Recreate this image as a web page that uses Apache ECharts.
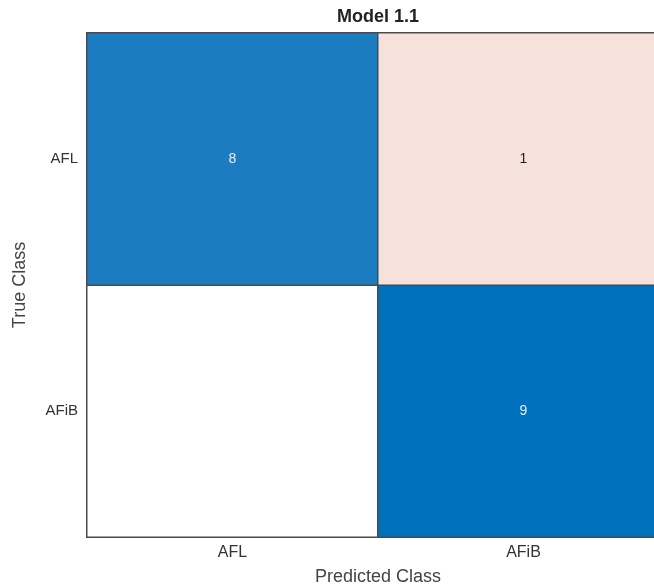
<!DOCTYPE html>
<html>
<head>
<meta charset="utf-8">
<script src="https://cdn.jsdelivr.net/npm/echarts@6/dist/echarts.min.js"></script>
<style>html,body{margin:0;padding:0;background:#fff}#c{width:654px;height:585px}</style>
</head>
<body>
<div id="c"></div>
<script>
var predictedClasses = ['AFL', 'AFiB'];
var trueClasses = ['AFiB', 'AFL']; // bottom to top
// counts[trueIndex][predIndex], trueIndex follows trueClasses order
var countsAFiB = [0, 9];
var countsAFL = [8, 1];
var counts = [countsAFiB, countsAFL];

var data = [];
for (var t = 0; t < trueClasses.length; t++) {
  for (var p = 0; p < predictedClasses.length; p++) {
    var v = counts[t][p];
    data.push({
      value: [p, t, v],
      label: { color: v >= 5 ? '#e8f0f8' : '#222' }
    });
  }
}

var FONT = 'Liberation Sans, Arial, sans-serif';
var chart = echarts.init(document.getElementById('c'), null, { renderer: 'canvas' });
chart.setOption({
  animation: false,
  title: {
    text: 'Model 1.1',
    left: 378,
    top: 8,
    padding: 0,
    textAlign: 'center',
    textStyle: { fontFamily: FONT, fontSize: 18, fontWeight: 'bold', color: '#222' }
  },
  grid: { left: 87, top: 33, width: 582, height: 504, containLabel: false, outerBoundsMode: 'none' },
  xAxis: {
    type: 'category',
    data: predictedClasses,
    name: 'Predicted Class',
    nameLocation: 'middle',
    nameGap: 31,
    nameTextStyle: { fontFamily: FONT, fontSize: 18, color: '#444' },
    axisLine: { show: false },
    axisTick: { show: false },
    splitLine: { show: false },
    axisLabel: { margin: 8, fontFamily: FONT, fontSize: 16, color: '#333' }
  },
  yAxis: {
    type: 'category',
    data: trueClasses,
    name: 'True Class',
    nameLocation: 'middle',
    nameGap: 58,
    nameTextStyle: { fontFamily: FONT, fontSize: 18, color: '#444' },
    axisLine: { show: false },
    axisTick: { show: false },
    splitLine: { show: false },
    axisLabel: { margin: 9, fontFamily: FONT, fontSize: 15, color: '#333' }
  },
  visualMap: {
    show: false,
    type: 'piecewise',
    dimension: 2,
    pieces: [
      { value: 0, color: '#ffffff' },
      { value: 1, color: '#f6e2da' },
      { value: 8, color: '#1c7cc2' },
      { value: 9, color: '#0071bd' }
    ]
  },
  series: [{
    type: 'heatmap',
    data: data,
    itemStyle: { borderColor: '#4a4a4a', borderWidth: 1.5 },
    label: {
      show: true,
      fontFamily: FONT,
      fontSize: 14,
      formatter: function (p) { return p.value[2] === 0 ? '' : String(p.value[2]); }
    },
    emphasis: { disabled: true }
  }]
});
</script>
</body>
</html>
